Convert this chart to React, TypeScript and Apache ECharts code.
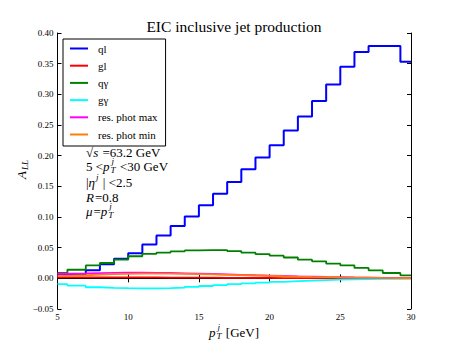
import { useEffect, useRef } from 'react';
import * as echarts from 'echarts';

// Bin edges (pT^j in GeV) and step values for each curve
const binEdges = [5, 5.7, 7, 8, 9, 10, 11, 12, 13, 14, 15, 16, 17, 18, 19, 20, 21, 22, 23, 24, 25, 26, 27, 28, 29.25, 30];
const qlValues = [0.006, 0.006, 0.013, 0.023, 0.032, 0.041, 0.055, 0.070, 0.0855, 0.101, 0.119, 0.138, 0.157, 0.178, 0.197, 0.217, 0.241, 0.264, 0.289, 0.316, 0.345, 0.369, 0.379, 0.379, 0.353];
const glValues = [0.0015, 0.0016, 0.0016, 0.0016, 0.0015, 0.0015, 0.0014, 0.0013, 0.0012, 0.0011, 0.001, 0.0009, 0.0008, 0.0007, 0.0006, 0.0005, 0.0005, 0.0004, 0.0004, 0.0003, 0.0003, 0.0002, 0.0002, 0.0001, 0.0001];
const qgammaValues = [0.0087, 0.014, 0.021, 0.025, 0.0305, 0.036, 0.040, 0.042, 0.044, 0.0455, 0.046, 0.046, 0.0445, 0.042, 0.0395, 0.037, 0.034, 0.0305, 0.0278, 0.024, 0.0212, 0.017, 0.0131, 0.0087, 0.0049];
const ggammaValues = [-0.0093, -0.012, -0.0145, -0.0155, -0.016, -0.0163, -0.0163, -0.016, -0.015, -0.0138, -0.0125, -0.011, -0.0095, -0.0082, -0.007, -0.0058, -0.0047, -0.0037, -0.0029, -0.0022, -0.0016, -0.0011, -0.0007, -0.0004, -0.0002];
const resMaxValues = [0.0075, 0.008, 0.0085, 0.009, 0.0092, 0.0092, 0.009, 0.0087, 0.0082, 0.0077, 0.0071, 0.0065, 0.0058, 0.0051, 0.0045, 0.0039, 0.0033, 0.0028, 0.0023, 0.0019, 0.0015, 0.0012, 0.0009, 0.0006, 0.0004];
const resMinValues = [0.004, 0.005, 0.006, 0.0068, 0.0073, 0.0076, 0.0077, 0.0076, 0.0073, 0.0069, 0.0064, 0.0058, 0.0052, 0.0046, 0.004, 0.0034, 0.0029, 0.0024, 0.002, 0.0016, 0.0013, 0.001, 0.0007, 0.0005, 0.0003];

const seriesNames = ['ql', 'gl', 'qγ', 'gγ', 'res. phot max', 'res. phot min'];
const seriesColors = ['#0000ff', '#ff0000', '#008000', '#00ffff', '#ff00ff', '#ff7f0e'];
const seriesValues = [qlValues, glValues, qgammaValues, ggammaValues, resMaxValues, resMinValues];

const xMin = 5, xMax = 30, xStep = 5;
const yMin = -0.05, yMax = 0.4, yStep = 0.05;

const FONT = 'Liberation Serif, DejaVu Serif, serif';

let ctx2d: CanvasRenderingContext2D | null = null;
function measure(text: string, font: string): number {
  if (!ctx2d) ctx2d = document.createElement('canvas').getContext('2d');
  if (!ctx2d) return text.length * 6;
  ctx2d.font = font;
  return ctx2d.measureText(text).width;
}

type Tok = { t: string; it?: boolean; size?: number; dy?: number } | { sub: string; sup: string; size?: number };

function buildMath(tokens: Tok[], base: number, y: number, x0: number, align: 'left' | 'center' = 'left') {
  const items: any[] = [];
  let x = 0;
  for (const tk of tokens) {
    if ('sub' in tk) {
      const s = tk.size ?? base * 0.7;
      const f = `italic ${s}px ${FONT}`;
      const w1 = measure(tk.sub, f);
      const w2 = measure(tk.sup, f);
      items.push({ t: tk.sub, font: f, x, dy: base * 0.3 });
      items.push({ t: tk.sup, font: f, x: x + 1, dy: -base * 0.36 });
      x += Math.max(w1, w2) + 1;
    } else {
      const s = tk.size ?? base;
      const f = `${tk.it ? 'italic ' : ''}${s}px ${FONT}`;
      const w = measure(tk.t, f);
      items.push({ t: tk.t, font: f, x, dy: tk.dy ?? 0 });
      x += w + (tk.it ? 1 : 0);
    }
  }
  const total = x;
  const start = align === 'center' ? x0 - total / 2 : x0;
  const elements = items.map((it) => ({
    type: 'text',
    x: start + it.x,
    y: y + it.dy,
    silent: true,
    style: {
      text: it.t,
      font: it.font,
      fill: '#000',
      textAlign: 'left',
      textVerticalAlign: 'middle',
      align: 'left',
      verticalAlign: 'middle',
    },
  }));
  return { elements, width: total, start };
}

export default function App() {
  const ref = useRef<HTMLDivElement>(null);
  useEffect(() => {
    if (!ref.current) return;
    const chart = echarts.init(ref.current, undefined, { renderer: 'svg' });

    const series = seriesNames.map((name, i) => ({
      name,
      type: 'line',
      step: 'end',
      symbol: 'none',
      xAxisIndex: 0,
      yAxisIndex: 0,
      lineStyle: { color: seriesColors[i], width: i === 0 ? 2 : 1.8 },
      itemStyle: { color: seriesColors[i] },
      data: binEdges.map((e, k) => [e, seriesValues[i][Math.min(k, seriesValues[i].length - 1)]]),
      z: 2 + i,
    }));

    const base = 13;
    const lines = [
      buildMath([{ t: '√' }, { t: 's', it: true }, { t: ' =63.2 GeV' }], base, 152, 86),
      buildMath([{ t: '5 <' }, { t: 'p', it: true }, { sub: 'T', sup: 'j' }, { t: ' <30 GeV' }], base, 166, 86),
      buildMath([{ t: '|' }, { t: 'η', it: true }, { t: 'j', it: true, size: base * 0.7, dy: -base * 0.36 }, { t: ' | <2.5' }], base, 182, 86),
      buildMath([{ t: 'R', it: true }, { t: '=0.8' }], base, 197, 86),
      buildMath([{ t: 'μ', it: true }, { t: '=' }, { t: 'p', it: true }, { sub: 'T', sup: 'j' }], base, 211, 86),
    ];
    const sqrtW = measure('√', `${base}px ${FONT}`);
    const sW = measure('s', `italic ${base}px ${FONT}`);
    const overbar = {
      type: 'line',
      silent: true,
      shape: { x1: 86 + sqrtW - 0.5, y1: 144.8, x2: 86 + sqrtW + sW + 1, y2: 144.8 },
      style: { stroke: '#000', lineWidth: 0.8 },
    };

    const xlab = buildMath([{ t: 'p', it: true }, { sub: 'T', sup: 'j' }, { t: ' [GeV]' }], 13, 332, 234, 'center');
    const ylab = buildMath([{ t: 'A', it: true }, { t: 'LL', it: true, size: 9, dy: 3.5 }], 13, 0, 0, 'center');

    const option: any = {
      animation: false,
      backgroundColor: '#ffffff',
      grid: { left: 57.5, right: 46, top: 33, bottom: 34, containLabel: false },
      legend: {
        orient: 'vertical',
        left: 63,
        top: 39,
        padding: [4, 8, 6, 7],
        itemGap: 6.2,
        itemWidth: 18,
        itemHeight: 10,
        symbolKeepAspect: true,
        borderColor: '#000',
        borderWidth: 1,
        backgroundColor: '#fff',
        data: seriesNames.map((n) => ({ name: n, icon: 'path://M0,0 L18,0 L18,2 L0,2 Z' })),
        textStyle: { fontFamily: FONT, fontSize: 11, color: '#000', lineHeight: 10, padding: [0, 0, 0, 5] },
      },
      xAxis: [
        {
          type: 'value', min: xMin, max: xMax, interval: xStep, position: 'bottom',
          axisLine: { show: true, lineStyle: { color: '#000', width: 1 } },
          axisTick: { show: true, inside: true, length: 4, lineStyle: { color: '#000' } },
          axisLabel: { fontFamily: FONT, fontSize: 9, color: '#000', margin: 3 },
          splitLine: { show: false },
        },
        {
          type: 'value', min: xMin, max: xMax, interval: xStep, position: 'top',
          axisLine: { show: true, lineStyle: { color: '#000', width: 1 } },
          axisTick: { show: true, inside: true, length: 4, lineStyle: { color: '#000' } },
          axisLabel: { show: false },
          splitLine: { show: false },
        },
      ],
      yAxis: [
        {
          type: 'value', min: yMin, max: yMax, interval: yStep, position: 'left',
          axisLine: { show: true, lineStyle: { color: '#000', width: 1 } },
          axisTick: { show: true, inside: true, length: 4, lineStyle: { color: '#000' } },
          axisLabel: {
            fontFamily: FONT, fontSize: 9, color: '#000', margin: 4,
            formatter: (v: number) => (Math.abs(v) < 1e-9 ? '0.00' : v < 0 ? '−' + Math.abs(v).toFixed(2) : v.toFixed(2)),
          },
          splitLine: { show: false },
        },
        {
          type: 'value', min: yMin, max: yMax, interval: yStep, position: 'right',
          axisLine: { show: true, lineStyle: { color: '#000', width: 1 } },
          axisTick: { show: true, inside: true, length: 4, lineStyle: { color: '#000' } },
          axisLabel: { show: false },
          splitLine: { show: false },
        },
      ],
      series,
      graphic: [
        {
          type: 'text', x: 234, y: 26, silent: true,
          style: { text: 'EIC inclusive jet production', font: `15.5px ${FONT}`, fill: '#000', textAlign: 'center', textVerticalAlign: 'middle', align: 'center', verticalAlign: 'middle' },
        },
        ...lines.flatMap((l) => l.elements),
        overbar,
        ...xlab.elements,
        { type: 'group', x: 21, y: 169, rotation: Math.PI / 2, children: ylab.elements },
      ],
    };
    chart.setOption(option);
    return () => chart.dispose();
  }, []);
  return <div ref={ref} style={{ position: 'fixed', left: 0, top: 0, width: 457, height: 343, background: '#fff' }} />;
}
